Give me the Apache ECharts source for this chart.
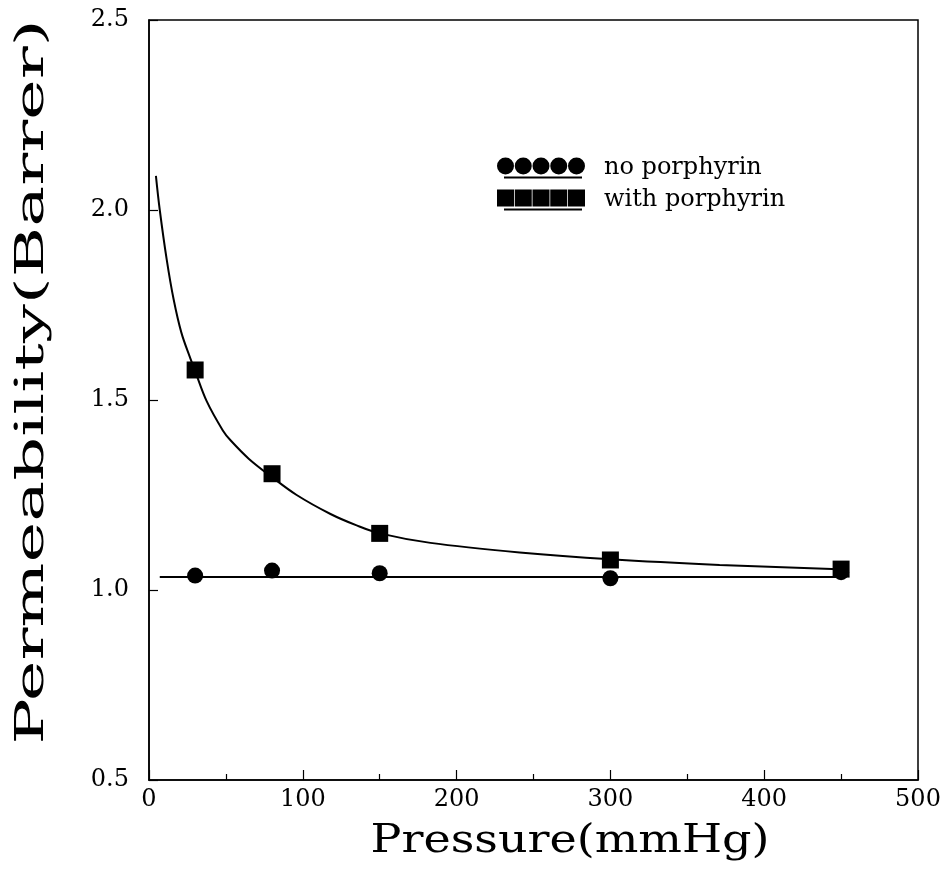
<!DOCTYPE html>
<html>
<head>
<meta charset="utf-8">
<script src="https://cdn.jsdelivr.net/npm/echarts@6/dist/echarts.min.js"></script>
<style>
html,body{margin:0;padding:0;background:#fff;}
#chart{width:948px;height:873px;}
</style>
</head>
<body>
<div id="chart"></div>
<script>
// ---- data ----
const pressure = [30, 80, 150, 300, 450];
const noPorphyrin = [1.038, 1.051, 1.044, 1.031, 1.047];
const withPorphyrin = [1.579, 1.306, 1.149, 1.079, 1.055];

const fitNoX = [7, 450];
const fitNoY = [1.034, 1.034];

const fitWithX = [4.5, 7, 11.5, 16, 21, 27, 30, 37.5, 48, 53, 65, 80, 96, 118, 135, 150, 183, 241, 300, 371, 444, 450];
const fitWithY = [2.09, 2.0, 1.87, 1.765, 1.678, 1.608, 1.576, 1.497, 1.42, 1.394, 1.345, 1.297, 1.25, 1.2, 1.17, 1.149, 1.124, 1.099, 1.081, 1.066, 1.055, 1.054];

const xTitle = 'Pressure(mmHg)';
const yTitle = 'Permeability(Barrer)';
const seriesNames = ['no porphyrin', 'with porphyrin'];

const zip = (xs, ys) => xs.map((x, i) => [x, ys[i]]);

// legend icons: five circles / five squares with an underline
const circlesIcon = 'path://' +
  [8.5, 26.25, 44, 61.75, 79.5].map(cx =>
    `M${cx - 8.5},8.5 A8.5,8.5 0 1,0 ${cx + 8.5},8.5 A8.5,8.5 0 1,0 ${cx - 8.5},8.5 Z`).join(' ') +
  ' M7,19 L85,19 L85,21 L7,21 Z';
const squaresIcon = 'path://' +
  [0, 17.75, 35.5, 53.25, 71].map(x0 =>
    `M${x0},0 L${x0 + 17},0 L${x0 + 17},17 L${x0},17 Z`).join(' ') +
  ' M7,19 L85,19 L85,21 L7,21 Z';

const serif = '"DejaVu Serif", "Liberation Serif", serif';
const chart = echarts.init(document.getElementById('chart'), null, {renderer: 'canvas'});

chart.setOption({
  backgroundColor: '#fff',
  animation: false,
  grid: {
    left: 149, right: 30, top: 20, bottom: 93,
    show: true, borderColor: '#000', borderWidth: 1.5, backgroundColor: 'transparent'
  },
  legend: {
    orient: 'vertical',
    left: 492, top: 151,
    itemWidth: 88, itemHeight: 21,
    itemGap: 8,
    data: [
      {name: seriesNames[0], icon: circlesIcon},
      {name: seriesNames[1], icon: squaresIcon}
    ],
    textStyle: {fontFamily: serif, fontSize: 24, color: '#000', padding: [0, 0, 0, 14]}
  },
  graphic: [
    {
      type: 'text', x: 570, y: 842, scaleX: 1.15,
      style: {text: xTitle, font: '40px ' + serif, fill: '#000', textAlign: 'center', textVerticalAlign: 'middle'},
      silent: true
    },
    {
      type: 'text', x: 33, y: 382, rotation: Math.PI / 2, scaleX: 1.72,
      style: {text: yTitle, font: '40px ' + serif, fill: '#000', textAlign: 'center', textVerticalAlign: 'middle'},
      silent: true
    }
  ],
  xAxis: {
    type: 'value', min: 0, max: 500, interval: 100,
    axisLine: {show: true, onZero: false, lineStyle: {color: '#000', width: 1.5}},
    axisTick: {show: true, inside: true, length: 10, lineStyle: {color: '#000', width: 1.2}},
    minorTick: {show: true, splitNumber: 2, length: 6, lineStyle: {color: '#000', width: 1.2}},
    axisLabel: {fontFamily: serif, fontSize: 24, color: '#000', margin: 8},
    splitLine: {show: false}
  },
  yAxis: {
    type: 'value', min: 0.5, max: 2.5, interval: 0.5,
    axisLine: {show: true, onZero: false, lineStyle: {color: '#000', width: 1.5}},
    axisTick: {show: true, inside: true, length: 9, lineStyle: {color: '#000', width: 1.2}},
    axisLabel: {fontFamily: serif, fontSize: 24, color: '#000', margin: 20, formatter: v => v.toFixed(1)},
    splitLine: {show: false}
  },
  series: [
    {
      name: 'fit no porphyrin', type: 'line', data: zip(fitNoX, fitNoY),
      showSymbol: false, symbol: 'none', lineStyle: {color: '#000', width: 2}, silent: true, z: 2
    },
    {
      name: 'fit with porphyrin', type: 'line', data: zip(fitWithX, fitWithY),
      smooth: 0.35,
      showSymbol: false, symbol: 'none', lineStyle: {color: '#000', width: 2}, silent: true, z: 2
    },
    {
      name: seriesNames[0], type: 'scatter', data: zip(pressure, noPorphyrin),
      symbol: 'circle', symbolSize: 16, itemStyle: {color: '#000', opacity: 1}, z: 3
    },
    {
      name: seriesNames[1], type: 'scatter', data: zip(pressure, withPorphyrin),
      symbol: 'rect', symbolSize: 17, itemStyle: {color: '#000', opacity: 1}, z: 4
    }
  ]
});
</script>
</body>
</html>
